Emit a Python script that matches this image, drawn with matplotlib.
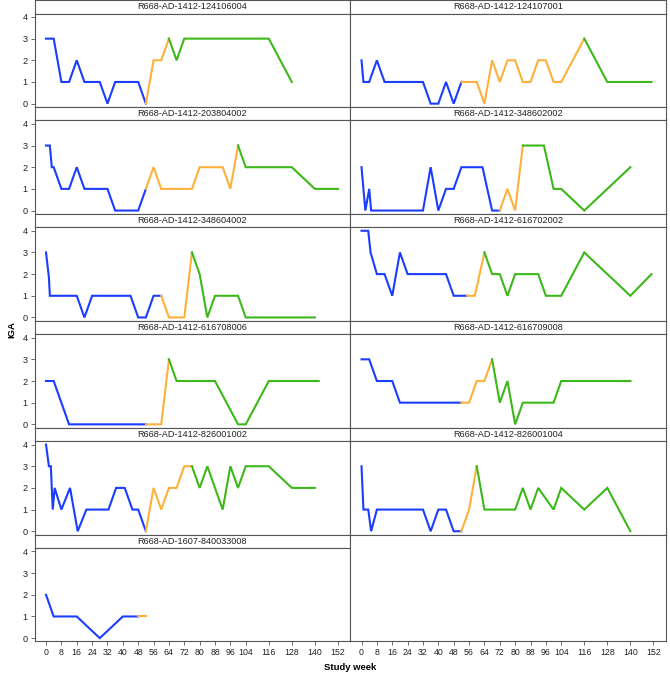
import matplotlib
matplotlib.use("Agg")
import matplotlib.pyplot as plt

plt.rcParams['font.family'] = ['Liberation Sans', 'DejaVu Sans']

# colores de cada fase
COLOR_FASE = ['#1a3dff', '#fdb13b', '#3cb81a']

# sujetos (orden de los paneles, por filas)
sujetos = [
    'R668-AD-1412-124106004', 'R668-AD-1412-124107001',
    'R668-AD-1412-203804002', 'R668-AD-1412-348602002',
    'R668-AD-1412-348604002', 'R668-AD-1412-616702002',
    'R668-AD-1412-616708006', 'R668-AD-1412-616709008',
    'R668-AD-1412-826001002', 'R668-AD-1412-826001004',
    'R668-AD-1607-840033008',
]

# semanas e IGA por fase: (azul, naranja, verde)
semanas = {
    'R668-AD-1412-124106004': ([0, 4, 8, 12, 16, 20, 28, 32, 36, 48, 52], [56, 60, 64], [68, 72, 116, 128]),
    'R668-AD-1412-124107001': ([0, 1, 4, 8, 12, 32, 36, 40, 44, 48, 52], [60, 64, 68, 72, 76, 80, 84, 88, 92, 96, 100, 104, 116], [128, 151]),
    'R668-AD-1412-203804002': ([0, 2, 3, 4, 8, 12, 16, 20, 32, 36, 48, 52], [56, 60, 76, 80, 92, 96, 100], [104, 128, 140, 152]),
    'R668-AD-1412-348602002': ([0, 2, 4, 5, 32, 36, 40, 44, 48, 52, 63, 68, 72], [76, 80, 84], [95, 100, 104, 116, 140]),
    'R668-AD-1412-348604002': ([0, 1.5, 2, 16, 20, 24, 44, 48, 52, 56, 60], [64, 72, 76], [80, 84, 88, 100, 104, 140]),
    'R668-AD-1412-616702002': ([0, 3.5, 4.7, 8, 12, 16, 20, 24, 44, 48, 55], [59, 64], [68, 72, 76, 80, 92, 96, 104, 116, 140, 151]),
    'R668-AD-1412-616708006': ([0, 4, 12, 52], [60, 64], [68, 88, 100, 104, 116, 142]),
    'R668-AD-1412-616709008': ([0, 4, 8, 16, 20, 52], [56, 60, 64, 68], [72, 76, 80, 84, 100, 104, 140]),
    'R668-AD-1412-826001002': ([0, 1.5, 2.5, 3.5, 4.5, 8, 12.5, 16.5, 21, 32.5, 36.5, 41, 45, 48, 52], [56, 60, 64, 68, 72, 76], [80, 84, 92, 96, 100, 104, 116, 128, 140]),
    'R668-AD-1412-826001004': ([0, 1, 3.5, 5, 8, 32, 36, 40, 44, 48, 52], [56, 60], [64, 80, 84, 88, 92, 100, 104, 116, 128, 140]),
    'R668-AD-1607-840033008': ([0, 4, 16, 28, 40, 48], [52], []),
}
iga = {
    'R668-AD-1412-124106004': ([3, 3, 1, 1, 2, 1, 1, 0, 1, 1, 0], [2, 2, 3], [2, 3, 3, 1]),
    'R668-AD-1412-124107001': ([2, 1, 1, 2, 1, 1, 0, 0, 1, 0, 1], [1, 0, 2, 1, 2, 2, 1, 1, 2, 2, 1, 1, 3], [1, 1]),
    'R668-AD-1412-203804002': ([3, 3, 2, 2, 1, 1, 2, 1, 1, 0, 0, 1], [2, 1, 1, 2, 2, 1, 3], [2, 2, 1, 1]),
    'R668-AD-1412-348602002': ([2, 0, 1, 0, 0, 2, 0, 1, 1, 2, 2, 0, 0], [1, 0, 3], [3, 1, 1, 0, 2]),
    'R668-AD-1412-348604002': ([3, 1.85, 1, 1, 0, 1, 1, 0, 0, 1, 1], [0, 0, 3], [2, 0, 1, 1, 0, 0]),
    'R668-AD-1412-616702002': ([4, 4, 3, 2, 2, 1, 3, 2, 2, 1, 1], [1, 3], [2, 2, 1, 2, 2, 1, 1, 3, 1, 2]),
    'R668-AD-1412-616708006': ([2, 2, 0, 0], [0, 3], [2, 2, 0, 0, 2, 2]),
    'R668-AD-1412-616709008': ([3, 3, 2, 2, 1, 1], [1, 2, 2, 3], [1, 2, 0, 1, 1, 2, 2]),
    'R668-AD-1412-826001002': ([4, 3, 3, 1, 2, 1, 2, 0, 1, 1, 2, 2, 1, 1, 0], [2, 1, 2, 2, 3, 3], [2, 3, 1, 3, 2, 3, 3, 2, 2]),
    'R668-AD-1412-826001004': ([3, 1, 1, 0, 1, 1, 0, 1, 1, 0, 0], [1, 3], [1, 1, 2, 1, 2, 1, 2, 1, 2, 0]),
    'R668-AD-1607-840033008': ([2, 1, 1, 0, 1, 1], [1], []),
}

ticks_x = [0, 8, 16, 24, 32, 40, 48, 56, 64, 72, 80, 88, 96, 104, 116, 128, 140, 152]
ticks_y = [0, 1, 2, 3, 4]

# medidas en pixeles
W, H = 670, 679
col_x = [34.5, 350]
col_w = 315.5
fila_h = 106.9
tira_h = 13.5
borde = '#555555'

fig = plt.figure(figsize=(W / 100, H / 100), dpi=100)


def caja(x, y, w, h):
    # y medido desde arriba
    return [x / W, 1 - (y + h) / H, w / W, h / H]


def dibujar_panel(ax, sujeto):
    xs_prev, ys_prev = [], []
    for fase in range(3):
        xs = xs_prev + list(semanas[sujeto][fase])
        ys = ys_prev + list(iga[sujeto][fase])
        if len(xs) > 1:
            ax.plot(xs, ys, color=COLOR_FASE[fase], lw=1.5, solid_joinstyle='miter')
        if len(semanas[sujeto][fase]) > 0:
            xs_prev = [semanas[sujeto][fase][-1]]
            ys_prev = [iga[sujeto][fase][-1]]


for i in range(12):
    fila, col = divmod(i, 2)
    top = fila * fila_h
    if i < len(sujetos):
        # tira con el nombre
        at = fig.add_axes(caja(col_x[col], top, col_w, tira_h))
        at.set_xticks([])
        at.set_yticks([])
        for s in at.spines.values():
            s.set_color(borde)
            s.set_linewidth(0.8)
        at.text(0.5, 0.5, sujetos[i], ha='center', va='center', fontsize=6.6, color='#222222')
        ax = fig.add_axes(caja(col_x[col], top + tira_h, col_w, fila_h - tira_h))
        dibujar_panel(ax, sujetos[i])
    else:
        ax = fig.add_axes(caja(col_x[col], top, col_w, fila_h))
    ax.set_xlim(-6, 158.3)
    ax.set_ylim(-0.15, 4.16)
    for s in ax.spines.values():
        s.set_color(borde)
        s.set_linewidth(0.8)
    if col == 0:
        ax.set_yticks(ticks_y)
        ax.tick_params(axis='y', length=3, width=0.6, color=borde, labelsize=6.6, pad=2, labelcolor='#222222')
    else:
        ax.set_yticks([])
    if fila == 5:
        ax.set_xticks(ticks_x)
        ax.tick_params(axis='x', length=3, width=0.6, color=borde, labelsize=6.3, pad=2, labelcolor='#222222')
    else:
        ax.set_xticks([])

fig.text(12 / W, 1 - 330 / H, 'IGA', rotation=90, ha='center', va='center', fontsize=6.8, fontweight='bold')
fig.text(350 / W, 1 - 668 / H, 'Study week', ha='center', va='center', fontsize=6.8, fontweight='bold')

fig.savefig('out.png', dpi=100)
